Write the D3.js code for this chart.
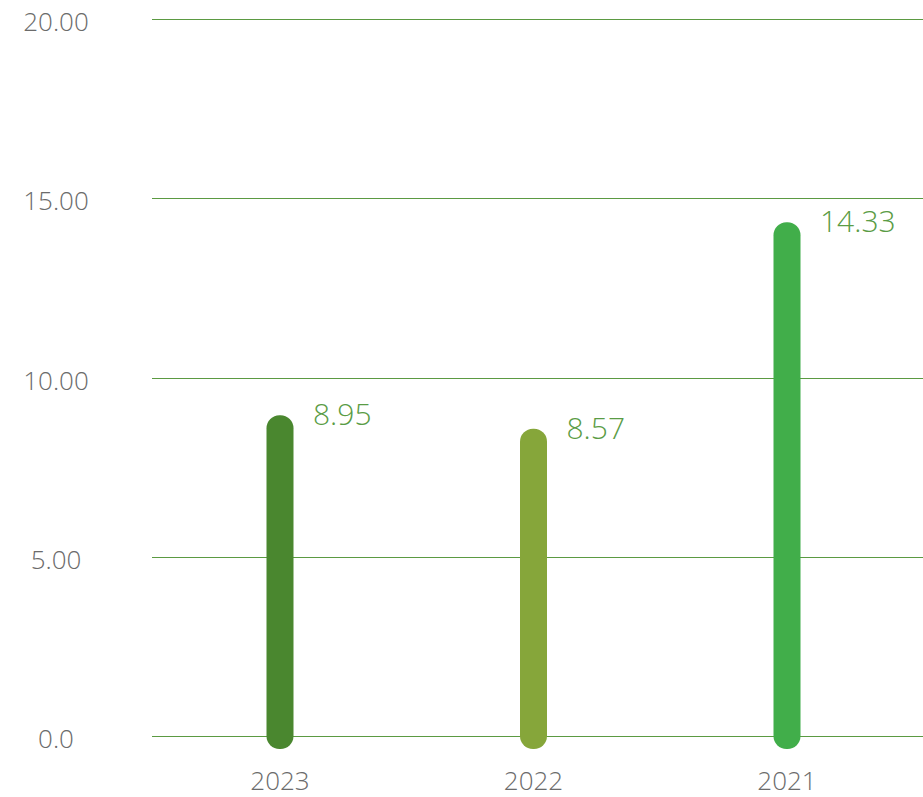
<!DOCTYPE html>
<html>
<head>
<meta charset="utf-8">
<script src="https://cdn.jsdelivr.net/npm/d3@7"></script>
<style>
  html, body { margin: 0; padding: 0; background: #fff; }
  svg { display: block; }
  text { font-family: "Open Sans", "Noto Sans", sans-serif; font-weight: 300; }
</style>
</head>
<body>
<svg id="chart" width="923" height="797"></svg>
<script>
const categories = ["2023", "2022", "2021"];
const values = [8.95, 8.57, 14.33];
const valueLabels = ["8.95", "8.57", "14.33"];
const barColors = ["#4a872f", "#86a63a", "#41ae4a"];
const yTicks = [0, 5, 10, 15, 20];
const yTickLabels = ["0.0", "5.00", "10.00", "15.00", "20.00"];

const svg = d3.select("#chart");
const W = 923;
const gridLeft = 152;

const y = d3.scaleLinear().domain([0, 20]).range([736, 19]);
const x = d3.scalePoint().domain(categories).range([280, 787]);

// gridlines
svg.append("g").selectAll("line").data(yTicks).join("line")
  .attr("x1", gridLeft).attr("x2", W)
  .attr("y1", d => Math.round(y(d)) + 0.5).attr("y2", d => Math.round(y(d)) + 0.5)
  .attr("stroke", "#5b9a42").attr("stroke-width", 1);

// y tick labels
svg.append("g").selectAll("text").data(yTicks).join("text")
  .attr("x", 56).attr("y", d => y(d) + 12)
  .attr("text-anchor", "middle")
  .attr("font-size", 26)
  .attr("fill", "#6b6b6b")
  .text((d, i) => yTickLabels[i]);

// bars (rounded)
const barW = 27, r = 13;
svg.append("g").selectAll("rect").data(values).join("rect")
  .attr("x", (d, i) => x(categories[i]) - barW / 2)
  .attr("y", d => y(d))
  .attr("width", barW)
  .attr("height", d => y(0) - y(d) + r)
  .attr("rx", r).attr("ry", r)
  .attr("fill", (d, i) => barColors[i]);

// value labels
svg.append("g").selectAll("text").data(values).join("text")
  .attr("x", (d, i) => x(categories[i]) + 33)
  .attr("y", d => y(d) + 10)
  .attr("font-size", 30)
  .attr("fill", "#5a9c45")
  .text((d, i) => valueLabels[i]);

// x labels
svg.append("g").selectAll("text").data(categories).join("text")
  .attr("x", d => x(d))
  .attr("y", 790)
  .attr("text-anchor", "middle")
  .attr("font-size", 26)
  .attr("fill", "#6b6b6b")
  .text(d => d);
</script>
</body>
</html>
